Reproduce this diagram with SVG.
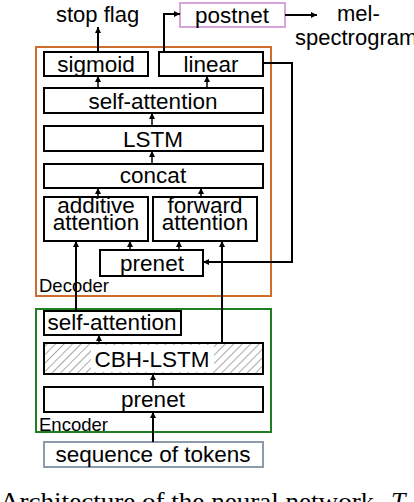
<svg xmlns="http://www.w3.org/2000/svg" width="414" height="502" viewBox="0 0 414 502">
<defs>
<style>
.box{fill:#fff;stroke:#000;stroke-width:2}
.lbl{font-family:"Liberation Sans",Arial,sans-serif;font-size:22.5px;fill:#000;text-anchor:middle}
.free{font-family:"Liberation Sans",Arial,sans-serif;font-size:22px;fill:#000}
.grp{font-family:"Liberation Sans",Arial,sans-serif;font-size:18.5px;fill:#000}
.ln{fill:none;stroke:#000;stroke-width:2;marker-end:url(#ah)}
.sh{fill:none;stroke:#000;stroke-width:1.5;marker-end:url(#ah)}
</style>
<marker id="ah" markerUnits="userSpaceOnUse" markerWidth="7" markerHeight="6" refX="6" refY="3" orient="auto">
<path d="M0,0 L6,3 L0,6 z" fill="#000"/>
</marker>
<pattern id="hatch" patternUnits="userSpaceOnUse" width="6" height="6" patternTransform="rotate(45)">
<line x1="0" y1="0" x2="0" y2="6" stroke="#555" stroke-width="1"/>
</pattern>
</defs>

<g id="decoder">
<rect x="36" y="47" width="235" height="249" fill="none" stroke="#cf6e2c" stroke-width="2"/>
<text class="grp" x="39" y="292">Decoder</text>
</g>
<g id="encoder">
<rect x="36" y="309" width="235" height="123" fill="none" stroke="#1e801e" stroke-width="2"/>
<text class="grp" x="39" y="431">Encoder</text>
</g>

<g id="sigmoid"><rect class="box" x="44" y="52" width="104" height="24"/><text class="lbl" x="96" y="72">sigmoid</text></g>
<g id="linear"><rect class="box" x="159" y="52" width="104" height="24"/><text class="lbl" x="211" y="72">linear</text></g>
<g id="dec-self-attention"><rect class="box" x="44" y="88" width="219" height="25"/><text class="lbl" x="153" y="109">self-attention</text></g>
<g id="lstm"><rect class="box" x="44" y="126" width="219" height="25"/><text class="lbl" x="153" y="147">LSTM</text></g>
<g id="concat"><rect class="box" x="44" y="164" width="219" height="24"/><text class="lbl" x="153" y="183">concat</text></g>
<g id="additive-attention"><rect class="box" x="44" y="197" width="104" height="44"/><text class="lbl" x="96" y="213">additive</text><text class="lbl" x="96" y="230">attention</text></g>
<g id="forward-attention"><rect class="box" x="153" y="197" width="104" height="44"/><text class="lbl" x="205" y="213">forward</text><text class="lbl" x="205" y="230">attention</text></g>
<g id="dec-prenet"><rect class="box" x="100" y="250" width="103" height="26"/><text class="lbl" x="152" y="271">prenet</text></g>

<g id="postnet"><rect x="180" y="3" width="105" height="24" fill="#fff" stroke="#d8a4dc" stroke-width="2"/><text class="lbl" x="232" y="23">postnet</text></g>
<g id="stop-flag"><text class="free" x="56" y="22">stop flag</text></g>
<g id="mel-spectrogram"><text class="free" x="337" y="21">mel-</text><text class="free" x="295" y="45">spectrogram</text></g>

<g id="enc-self-attention"><rect class="box" x="44" y="311" width="137" height="24"/><text class="lbl" x="112" y="330">self-attention</text></g>
<g id="cbh-lstm"><rect x="44" y="343" width="219" height="31" fill="url(#hatch)" stroke="#000" stroke-width="2"/><rect x="91" y="345" width="123" height="27" fill="#fff"/><text class="lbl" x="152" y="367">CBH-LSTM</text></g>
<g id="enc-prenet"><rect class="box" x="44" y="387" width="219" height="25"/><text class="lbl" x="153" y="407">prenet</text></g>
<g id="sequence-of-tokens"><rect x="44" y="442" width="219" height="25" fill="#fff" stroke="#8b9bab" stroke-width="2"/><text class="lbl" x="153" y="462">sequence of tokens</text></g>

<g id="connectors">
<path class="ln" d="M98,52 V27"/>
<path class="ln" d="M164,52 V14 H180"/>
<path class="ln" d="M285,15 H317"/>
<path class="sh" d="M98,88 V76"/>
<path class="sh" d="M207,88 V76"/>
<path class="sh" d="M152,126 V113"/>
<path class="sh" d="M152,164 V151"/>
<path class="sh" d="M98,197 V188"/>
<path class="sh" d="M201,197 V188"/>
<path class="sh" d="M130,250 V241"/>
<path class="sh" d="M179,250 V241"/>
<path class="ln" d="M263,63 H292 V262 H203"/>
<path class="ln" d="M76,311 V241"/>
<path class="ln" d="M222,343 V241"/>
<path class="sh" d="M99,343 V335"/>
<path class="sh" d="M153,387 V374"/>
<path class="ln" d="M153,442 V412"/>
</g>

<g id="caption">
<text x="0" y="510" font-family="'Liberation Serif','Times New Roman',serif" font-size="26" textLength="381" lengthAdjust="spacingAndGlyphs">Architecture of the neural network.</text>
<text x="391" y="510" font-family="'Liberation Serif','Times New Roman',serif" font-size="26" font-style="italic">T</text>
</g>
</svg>
